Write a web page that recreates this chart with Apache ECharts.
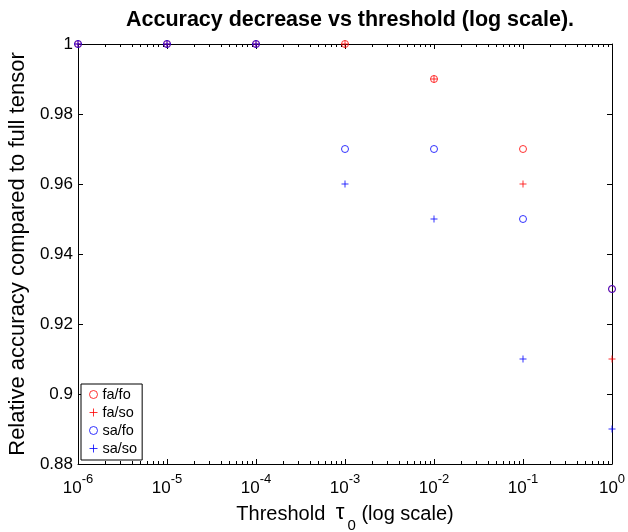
<!DOCTYPE html>
<html><head><meta charset="utf-8">
<script src="https://cdn.jsdelivr.net/npm/echarts@6/dist/echarts.min.js"></script>
<style>html,body{margin:0;padding:0;background:#fff}#c{width:628px;height:532px}</style>
</head><body><div id="c"></div>
<script>
var thresholds = [1e-6, 1e-5, 1e-4, 1e-3, 1e-2, 1e-1, 1];
var faFo = [1, 1, 1, 1, 0.99, 0.97, 0.93];
var faSo = [1, 1, 1, 1, 0.99, 0.96, 0.91];
var saFo = [1, 1, 1, 0.97, 0.97, 0.95, 0.93];
var saSo = [1, 1, 1, 0.96, 0.95, 0.91, 0.89];
var yTicks = [0.88, 0.9, 0.92, 0.94, 0.96, 0.98, 1];
var minorTicks = [];
for (var k = -6; k < 0; k++) { for (var m = 2; m <= 9; m++) { minorTicks.push(m * Math.pow(10, k)); } }

function pairs(ys) { return thresholds.map(function (x, i) { return [x, ys[i]]; }); }
var plusPath = 'path://M0,5L10,5M5,0L5,10';
var FONT = 'Liberation Sans';

var chart = echarts.init(document.getElementById('c'));
var axisLineStyle = { color: '#000', width: 1 };
var option = {
  animation: false,
  textStyle: { fontFamily: FONT },
  title: {
    text: 'Accuracy decrease vs threshold (log scale).',
    left: 345, top: 4, textAlign: 'center',
    textStyle: { fontFamily: FONT, fontSize: 21.5, fontWeight: 'bold', color: '#000' }
  },
  grid: { left: 78, right: 16, top: 44, bottom: 68, containLabel: false, outerBoundsMode: 'none' },
  legend: {
    orient: 'vertical', left: 81, top: 384,
    backgroundColor: '#fff', borderColor: '#000', borderWidth: 1,
    padding: [3, 5, 4, 8], itemGap: 3, itemWidth: 8, itemHeight: 8,
    itemStyle: { borderWidth: 1 },
    textStyle: { fontFamily: FONT, fontSize: 14.5, lineHeight: 14, color: '#000', padding: [0, 0, 0, 0] },
    data: ['fa/fo', 'fa/so', 'sa/fo', 'sa/so']
  },
  xAxis: [{
    type: 'log', logBase: 10, min: 1e-6, max: 1, interval: 1,
    position: 'bottom',
    name: '{a|Threshold }{t|τ}{s|0}{a| (log scale)}',
    nameLocation: 'middle', nameGap: 36,
    nameTextStyle: { rich: {
      a: { fontFamily: FONT, fontSize: 20, color: '#000', verticalAlign: 'bottom', lineHeight: 24 },
      t: { fontFamily: FONT, fontSize: 22, color: '#000', verticalAlign: 'bottom', lineHeight: 24, padding: [0, 3, 0, 5] },
      s: { fontFamily: FONT, fontSize: 15, color: '#000', verticalAlign: 'bottom', lineHeight: 24, padding: [0, 0, -9, 0] }
    } },
    axisLine: { lineStyle: axisLineStyle },
    axisTick: { inside: true, length: 5, lineStyle: axisLineStyle },
    splitLine: { show: false },
    axisLabel: {
      margin: 9,
      formatter: function (v) { return '{b|10}{s|' + Math.round(Math.log10(v)) + '}'; },
      rich: {
        b: { fontFamily: FONT, fontSize: 17, color: '#000', verticalAlign: 'bottom', lineHeight: 24 },
        s: { fontFamily: FONT, fontSize: 13, color: '#000', verticalAlign: 'bottom', lineHeight: 24, padding: [0, 0, 11, 0] }
      }
    }
  }, {
    type: 'log', logBase: 10, min: 1e-6, max: 1, interval: 1,
    position: 'top',
    axisLine: { lineStyle: axisLineStyle },
    axisTick: { inside: true, length: 5, lineStyle: axisLineStyle },
    axisLabel: { show: false }, splitLine: { show: false }
  }],
  yAxis: [{
    type: 'value', min: 0.88, max: 1, interval: 0.02,
    position: 'left',
    name: 'Relative accuracy compared to full tensor',
    nameLocation: 'middle', nameGap: 40,
    nameTextStyle: { fontFamily: FONT, fontSize: 22, color: '#000' },
    axisLine: { show: true, lineStyle: axisLineStyle },
    axisTick: { show: true, inside: true, length: 5, lineStyle: axisLineStyle },
    splitLine: { show: false },
    axisLabel: {
      margin: 5, fontFamily: FONT, fontSize: 17, color: '#000',
      formatter: function (v) { return String(parseFloat(v.toFixed(2))); }
    }
  }, {
    type: 'value', min: 0.88, max: 1, interval: 0.02,
    position: 'right',
    axisLine: { show: true, lineStyle: axisLineStyle },
    axisTick: { show: true, inside: true, length: 5, lineStyle: axisLineStyle },
    axisLabel: { show: false }, splitLine: { show: false }
  }],
  series: [
    {
      type: 'custom', silent: true, clip: false, z: 1,
      data: minorTicks.map(function (v) { return [v, 0.88]; }),
      renderItem: function (params, api) {
        var b = api.coord([api.value(0), 0.88]);
        var t = api.coord([api.value(0), 1]);
        var st = { stroke: '#000', lineWidth: 1 };
        var x = Math.round(b[0]) + 0.5;
        return { type: 'group', children: [
          { type: 'line', shape: { x1: x, y1: b[1], x2: x, y2: b[1] - 3 }, style: st },
          { type: 'line', shape: { x1: x, y1: t[1], x2: x, y2: t[1] + 3 }, style: st }
        ] };
      }
    },
    { name: 'fa/fo', type: 'scatter', clip: false, z: 3, symbol: 'circle', symbolSize: 7,
      itemStyle: { color: 'rgba(0,0,0,0)', borderColor: '#ff0000', borderWidth: 1 }, data: pairs(faFo) },
    { name: 'fa/so', type: 'scatter', clip: false, z: 4, symbol: plusPath, symbolSize: 7,
      itemStyle: { color: 'rgba(0,0,0,0)', borderColor: '#ff0000', borderWidth: 1 }, data: pairs(faSo) },
    { name: 'sa/fo', type: 'scatter', clip: false, z: 5, symbol: 'circle', symbolSize: 7,
      itemStyle: { color: 'rgba(0,0,0,0)', borderColor: '#0000ff', borderWidth: 1 }, data: pairs(saFo) },
    { name: 'sa/so', type: 'scatter', clip: false, z: 6, symbol: plusPath, symbolSize: 7,
      itemStyle: { color: 'rgba(0,0,0,0)', borderColor: '#0000ff', borderWidth: 1 }, data: pairs(saSo) }
  ]
};
chart.setOption(option);
</script>
</body></html>
